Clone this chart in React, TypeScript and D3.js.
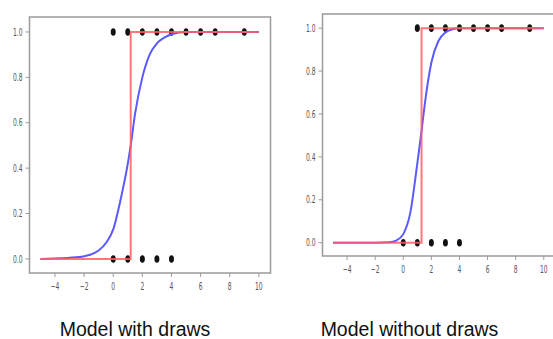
import React from "react";
import * as d3 from "d3";

// ---- data ----
const xTicks = [-4, -2, 0, 2, 4, 6, 8, 10];
const yTicks = [0.0, 0.2, 0.4, 0.6, 0.8, 1.0];

const leftOnesX = [0, 1, 2, 3, 4, 5, 6, 7, 9];
const leftZerosX = [0, 1, 2, 3, 4];
const leftThreshold = 1.2;
const leftCurveX = [-5, -4, -3, -2, -1, -0.5, 0, 0.5, 1, 1.2, 1.5, 2, 2.5, 3, 3.5, 4, 5, 10];
const leftCurveY = [0.0, 0.002, 0.005, 0.012, 0.037, 0.07, 0.13, 0.26, 0.42, 0.5, 0.64, 0.8, 0.9, 0.95, 0.975, 0.99, 1.0, 1.0];

const rightOnesX = [1, 2, 3, 4, 5, 6, 7, 9];
const rightZerosX = [0, 1, 2, 3, 4];
const rightThreshold = 1.3;
const rightCurveX = [-5, -2, -1, -0.5, 0, 0.5, 1, 1.3, 1.5, 2, 2.5, 3, 3.5, 4, 10];
const rightCurveY = [0.0, 0.0, 0.002, 0.01, 0.04, 0.14, 0.37, 0.52, 0.63, 0.84, 0.94, 0.98, 0.995, 1.0, 1.0];

const stepStart = -5;
const stepEnd = 10;

const titles = ["Model with draws", "Model without draws"];

type PanelProps = {
  x0: number; x1: number; y0: number; y1: number;
  ones: number[]; zeros: number[]; threshold: number;
  curveX: number[]; curveY: number[];
  clipId: string;
};

function Panel({ x0, x1, y0, y1, ones, zeros, threshold, curveX, curveY, clipId }: PanelProps) {
  const xs = d3.scaleLinear().domain([-5.75, 10.8]).range([x0, x1]);
  const ys = d3.scaleLinear().domain([-0.062, 1.066]).range([y1, y0]);
  const line = d3.line<[number, number]>().x(d => xs(d[0])).y(d => ys(d[1]));
  const curve = d3.line<[number, number]>().x(d => xs(d[0])).y(d => ys(d[1])).curve(d3.curveMonotoneX);
  const stepPts: [number, number][] = [[stepStart, 0], [threshold, 0], [threshold, 1], [stepEnd, 1]];
  const curvePts: [number, number][] = curveX.map((x, i) => [x, curveY[i]]);
  const fmt = d3.format(".1f");
  return (
    <g>
      <defs>
        <clipPath id={clipId}><rect x={x0} y={y0} width={x1 - x0} height={y1 - y0} /></clipPath>
      </defs>
      <rect x={x0} y={y0} width={x1 - x0} height={y1 - y0} fill="#fff" stroke="#9a9a9a" strokeWidth={1.5} />
      {yTicks.map(t => (
        <g key={"y" + t}>
          <line x1={x0 - 4} x2={x0} y1={ys(t)} y2={ys(t)} stroke="#9a9a9a" strokeWidth={1} />
          <text transform={`translate(${x0 - 7},${ys(t)}) scale(0.6,1)`} textAnchor="end" dominantBaseline="central"
            fontSize={10} fontFamily="DejaVu Sans" fill="#555">{fmt(t)}</text>
        </g>
      ))}
      {xTicks.map(t => (
        <g key={"x" + t}>
          <line x1={xs(t)} x2={xs(t)} y1={y1} y2={y1 + 4} stroke="#9a9a9a" strokeWidth={1} />
          <text transform={`translate(${xs(t)},${y1 + 13}) scale(0.6,1)`} textAnchor="middle" dominantBaseline="central"
            fontSize={10} fontFamily="DejaVu Sans" fill="#555">{t < 0 ? "\u2212" + Math.abs(t) : String(t)}</text>
        </g>
      ))}
      <g clipPath={`url(#${clipId})`}>
        {ones.map(x => <ellipse key={"o" + x} cx={xs(x)} cy={ys(1)} rx={2.5} ry={3.8} fill="#111" />)}
        {zeros.map(x => <ellipse key={"z" + x} cx={xs(x)} cy={ys(0)} rx={2.5} ry={3.8} fill="#111" />)}
        <path d={curve(curvePts) || ""} fill="none" stroke="#5a5aff" strokeWidth={2} />
        <path d={line(stepPts) || ""} fill="none" stroke="#ff5f5f" strokeOpacity={0.85} strokeWidth={2} />
      </g>
    </g>
  );
}

export default function App() {
  return (
    <svg width={553} height={339} style={{ position: "absolute", left: 0, top: 0, background: "#fff" }}
      xmlns="http://www.w3.org/2000/svg">
      <rect x={0} y={0} width={553} height={339} fill="#fff" />
      <Panel x0={29.5} x1={270.5} y0={17} y1={273} ones={leftOnesX} zeros={leftZerosX}
        threshold={leftThreshold} curveX={leftCurveX} curveY={leftCurveY} clipId="clipL" />
      <Panel x0={322.5} x1={555} y0={14} y1={256} ones={rightOnesX} zeros={rightZerosX}
        threshold={rightThreshold} curveX={rightCurveX} curveY={rightCurveY} clipId="clipR" />
      <text x={135} y={336} textAnchor="middle" fontSize={19.5} fontFamily="Liberation Sans, Arial" fill="#111">{titles[0]}</text>
      <text x={409.5} y={336} textAnchor="middle" fontSize={19.5} fontFamily="Liberation Sans, Arial" fill="#111">{titles[1]}</text>
    </svg>
  );
}
